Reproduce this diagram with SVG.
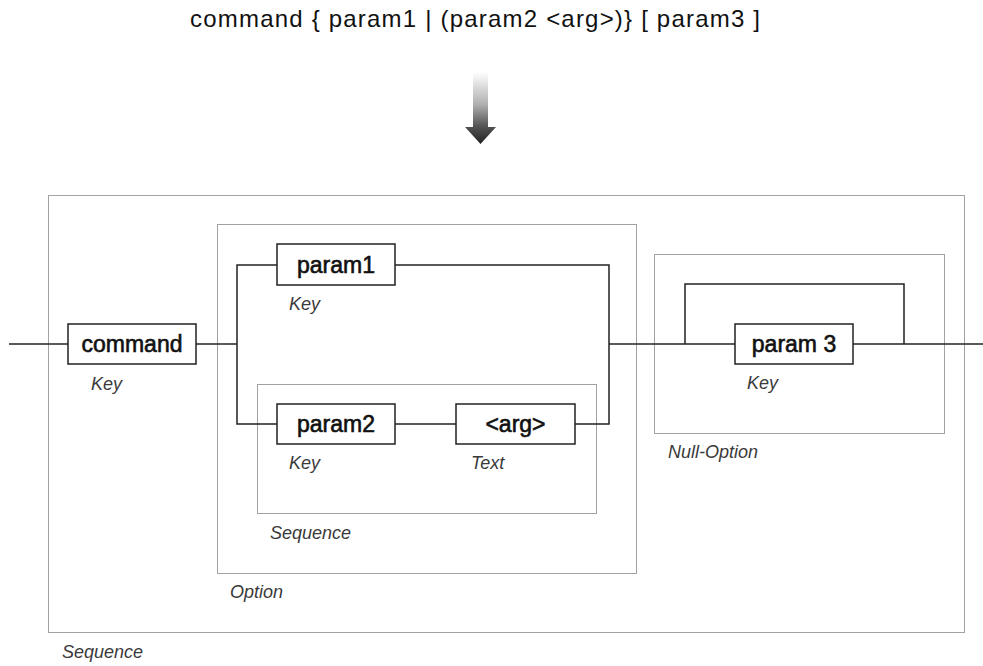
<svg xmlns="http://www.w3.org/2000/svg" width="983" height="666" viewBox="0 0 983 666">
<style>
.bg{fill:#fff}
.grp{fill:none;stroke:#444;stroke-width:1;stroke-dasharray:1 1}
.box{fill:#fff;stroke:#222;stroke-width:1.5}
.ln{fill:none;stroke:#222;stroke-width:1.5}
.lbl{font-family:"Liberation Sans",Arial,sans-serif;font-size:23px;fill:#111;stroke:#111;stroke-width:0.6;text-anchor:middle}
.typ{font-family:"Liberation Sans",Arial,sans-serif;font-size:18px;font-style:italic;fill:#3a3a3a}
.title{font-family:"Liberation Sans",Arial,sans-serif;font-size:24px;fill:#111}
</style>
<defs>
<linearGradient id="arrowGrad" x1="0" y1="72" x2="0" y2="144" gradientUnits="userSpaceOnUse">
<stop offset="0" stop-color="#ffffff"/>
<stop offset="0.45" stop-color="#b0b0b0"/>
<stop offset="0.75" stop-color="#555"/>
<stop offset="1" stop-color="#222"/>
</linearGradient>
</defs>
<rect class="bg" x="0" y="0" width="983" height="666"/>
<text class="title" x="190" y="27" textLength="570" lengthAdjust="spacing">command { param1 | (param2 &lt;arg&gt;)} [ param3 ]</text>
<path d="M473,72 L488,72 L488,127 L496,127 L480.5,144 L465,127 L473,127 Z" fill="url(#arrowGrad)"/>

<g id="groups">
<rect id="seq-outer" class="grp" x="48.5" y="195.5" width="916" height="437"/>
<rect id="option" class="grp" x="217.5" y="224.5" width="419" height="349"/>
<rect id="seq-inner" class="grp" x="257.5" y="384.5" width="339" height="129"/>
<rect id="null-option" class="grp" x="654.5" y="254.5" width="290" height="179"/>
</g>

<g id="connectors">
<path class="ln" d="M9,344 H68"/>
<path class="ln" d="M196,344 H237"/>
<path class="ln" d="M277,265 H237 V424 H277"/>
<path class="ln" d="M395,265 H609 V424 H575"/>
<path class="ln" d="M395,424 H456"/>
<path class="ln" d="M609,344 H735"/>
<path class="ln" d="M853,344 H983"/>
<path class="ln" d="M685,344 V284 H904 V344"/>
</g>

<g id="node-command">
<rect class="box" x="68" y="324" width="128" height="40"/>
<text class="lbl" x="132" y="352">command</text>
<text class="typ" x="91" y="390">Key</text>
</g>
<g id="node-param1">
<rect class="box" x="277" y="244" width="118" height="41"/>
<text class="lbl" x="336" y="273">param1</text>
<text class="typ" x="289" y="310">Key</text>
</g>
<g id="node-param2">
<rect class="box" x="277" y="404" width="118" height="40"/>
<text class="lbl" x="336" y="432">param2</text>
<text class="typ" x="289" y="469">Key</text>
</g>
<g id="node-arg">
<rect class="box" x="456" y="404" width="119" height="40"/>
<text class="lbl" x="515.5" y="432">&lt;arg&gt;</text>
<text class="typ" x="471" y="469">Text</text>
</g>
<g id="node-param3">
<rect class="box" x="735" y="324" width="118" height="40"/>
<text class="lbl" x="794" y="352">param 3</text>
<text class="typ" x="747" y="389">Key</text>
</g>

<g id="group-labels">
<text class="typ" x="270" y="539">Sequence</text>
<text class="typ" x="230" y="598">Option</text>
<text class="typ" x="62" y="658">Sequence</text>
<text class="typ" x="668" y="458">Null-Option</text>
</g>
</svg>
